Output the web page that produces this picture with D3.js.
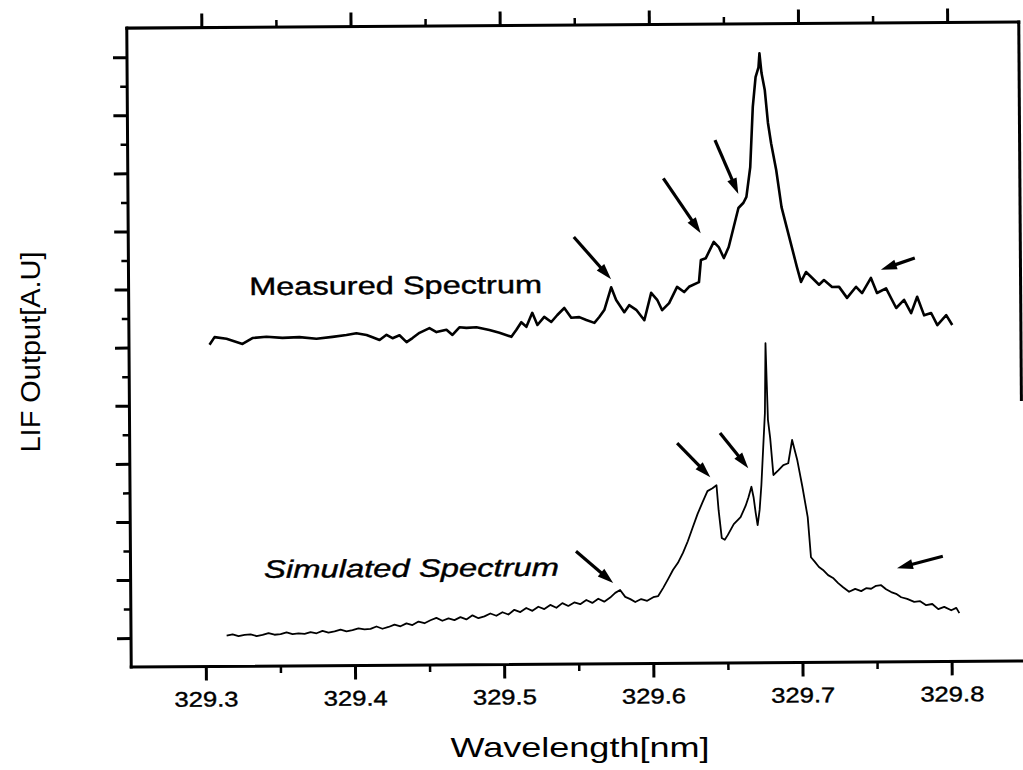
<!DOCTYPE html>
<html>
<head>
<meta charset="utf-8">
<script src="https://cdn.jsdelivr.net/npm/d3@7"></script>
<style>
  html, body { margin: 0; padding: 0; background: #fff; }
  svg { display: block; }
  text { font-family: "Liberation Sans", Arial, sans-serif; fill: #000; }
</style>
</head>
<body>
<svg id="chart" width="1023" height="770"></svg>
<script>
// wavelength ticks (nm)
var xMajor = [329.3, 329.4, 329.5, 329.6, 329.7, 329.8];
var xMinor = [329.35, 329.45, 329.55, 329.65, 329.75];
// intensity ticks (arbitrary units, no labels)
var yMajor = [0, 1, 2, 3, 4, 5, 6, 7, 8, 9, 10];
var yMinor = [0.5, 1.5, 2.5, 3.5, 4.5, 5.5, 6.5, 7.5, 8.5, 9.5];

// measured spectrum
var measuredX = [329.3040, 329.3074, 329.3154, 329.3261, 329.3328, 329.3422, 329.3529, 329.3643, 329.3757, 329.3865,
  329.3958, 329.4025, 329.4093, 329.4133, 329.4180, 329.4227, 329.4267, 329.4314, 329.4361, 329.4401,
  329.4448, 329.4515, 329.4562, 329.4629, 329.4669, 329.4716, 329.4763, 329.4830, 329.4917, 329.4984,
  329.5064, 329.5098, 329.5131, 329.5165, 329.5205, 329.5239, 329.5285, 329.5332, 329.5373, 329.5420,
  329.5466, 329.5520, 329.5567, 329.5621, 329.5654, 329.5688, 329.5735, 329.5768, 329.5822, 329.5855,
  329.5902, 329.5956, 329.6003, 329.6043, 329.6076, 329.6123, 329.6177, 329.6224, 329.6257, 329.6324,
  329.6338, 329.6371, 329.6425, 329.6458, 329.6492, 329.6525, 329.6559, 329.6592, 329.6626, 329.6646,
  329.6673, 329.6693, 329.6713, 329.6733, 329.6740, 329.6753, 329.6774, 329.6794, 329.6814, 329.6847,
  329.6881, 329.6914, 329.6948, 329.6981, 329.7008, 329.7042, 329.7082, 329.7129, 329.7162, 329.7216,
  329.7263, 329.7316, 329.7377, 329.7417, 329.7477, 329.7517, 329.7578, 329.7645, 329.7698, 329.7745,
  329.7786, 329.7832, 329.7879, 329.7920, 329.7980, 329.8020];
var measuredY = [5.04, 5.17, 5.14, 5.05, 5.15, 5.17, 5.15, 5.16, 5.13, 5.16,
  5.19, 5.22, 5.19, 5.15, 5.10, 5.19, 5.13, 5.18, 5.06, 5.13,
  5.22, 5.30, 5.23, 5.27, 5.18, 5.31, 5.30, 5.31, 5.26, 5.21,
  5.14, 5.26, 5.39, 5.31, 5.55, 5.34, 5.48, 5.39, 5.51, 5.63,
  5.46, 5.47, 5.42, 5.37, 5.47, 5.59, 5.98, 5.76, 5.55, 5.67,
  5.59, 5.41, 5.88, 5.76, 5.58, 5.70, 5.98, 5.89, 5.98, 6.06,
  6.44, 6.47, 6.75, 6.66, 6.47, 6.66, 7.00, 7.33, 7.42, 7.52,
  8.03, 9.07, 9.58, 9.75, 9.99, 9.65, 9.36, 8.79, 8.44, 7.98,
  7.34, 7.00, 6.65, 6.31, 6.05, 6.22, 6.12, 6.00, 6.08, 5.96,
  5.96, 5.77, 5.96, 5.85, 6.11, 5.85, 5.93, 5.59, 5.73, 5.50,
  5.78, 5.46, 5.50, 5.29, 5.46, 5.29];

// simulated spectrum
var simulatedX = [329.3141, 329.3181, 329.3221, 329.3261, 329.3302, 329.3342, 329.3382, 329.3422, 329.3462, 329.3503,
  329.3543, 329.3583, 329.3623, 329.3664, 329.3704, 329.3744, 329.3784, 329.3824, 329.3865, 329.3905,
  329.3945, 329.3985, 329.4025, 329.4066, 329.4106, 329.4146, 329.4186, 329.4227, 329.4267, 329.4307,
  329.4347, 329.4387, 329.4428, 329.4468, 329.4508, 329.4548, 329.4588, 329.4629, 329.4669, 329.4709,
  329.4749, 329.4790, 329.4830, 329.4870, 329.4910, 329.4950, 329.4991, 329.5031, 329.5071, 329.5111,
  329.5151, 329.5192, 329.5232, 329.5272, 329.5312, 329.5353, 329.5393, 329.5433, 329.5473, 329.5513,
  329.5554, 329.5594, 329.5634, 329.5674, 329.5714, 329.5748, 329.5781, 329.5815, 329.5849, 329.5882,
  329.5922, 329.5962, 329.6003, 329.6036, 329.6070, 329.6103, 329.6137, 329.6170, 329.6204, 329.6237,
  329.6271, 329.6304, 329.6338, 329.6371, 329.6405, 329.6432, 329.6445, 329.6465, 329.6485, 329.6505,
  329.6546, 329.6592, 329.6626, 329.6646, 329.6666, 329.6680, 329.6693, 329.6706, 329.6720, 329.6733,
  329.6747, 329.6760, 329.6767, 329.6773, 329.6780, 329.6794, 329.6814, 329.6847, 329.6881, 329.6914,
  329.6941, 329.6975, 329.7008, 329.7042, 329.7062, 329.7088, 329.7115, 329.7142, 329.7176, 329.7209,
  329.7243, 329.7276, 329.7316, 329.7357, 329.7397, 329.7430, 329.7464, 329.7497, 329.7531, 329.7564,
  329.7598, 329.7631, 329.7665, 329.7705, 329.7752, 329.7792, 329.7832, 329.7873, 329.7913, 329.7953,
  329.8000, 329.8034, 329.8054];
var simulatedY = [0.03, 0.05, 0.02, 0.04, 0.05, 0.02, 0.04, 0.07, 0.04, 0.05,
  0.08, 0.05, 0.06, 0.05, 0.08, 0.06, 0.10, 0.07, 0.09, 0.12,
  0.09, 0.11, 0.14, 0.12, 0.13, 0.17, 0.13, 0.16, 0.20, 0.17,
  0.22, 0.19, 0.25, 0.22, 0.27, 0.31, 0.26, 0.30, 0.27, 0.32,
  0.28, 0.35, 0.30, 0.33, 0.38, 0.34, 0.40, 0.36, 0.44, 0.40,
  0.47, 0.42, 0.49, 0.45, 0.52, 0.47, 0.55, 0.50, 0.56, 0.53,
  0.60, 0.55, 0.62, 0.57, 0.64, 0.72, 0.77, 0.65, 0.61, 0.56,
  0.61, 0.58, 0.64, 0.66, 0.80, 0.95, 1.11, 1.23, 1.40, 1.60,
  1.84, 2.07, 2.27, 2.46, 2.51, 2.56, 2.13, 1.65, 1.62, 1.70,
  1.89, 2.01, 2.20, 2.35, 2.53, 2.35, 2.09, 1.87, 2.13, 2.56,
  3.21, 3.80, 5.00, 4.37, 3.68, 3.37, 2.73, 2.81, 2.90, 2.93,
  3.33, 2.98, 2.52, 2.00, 1.31, 1.23, 1.14, 1.09, 1.00, 0.95,
  0.86, 0.79, 0.71, 0.76, 0.72, 0.77, 0.76, 0.81, 0.82, 0.75,
  0.70, 0.67, 0.61, 0.58, 0.53, 0.54, 0.47, 0.49, 0.40, 0.44,
  0.38, 0.42, 0.33];

// arrows: [tail wavelength, tail value, tip wavelength, tip value]
var measuredArrows = [
  [329.5487, 6.85, 329.5735, 6.12],
  [329.6090, 7.85, 329.6338, 6.90],
  [329.6438, 8.50, 329.6592, 7.57],
  [329.7772, 6.45, 329.7544, 6.25]
];
var simulatedArrows = [
  [329.5487, 1.44, 329.5735, 0.89],
  [329.6170, 3.29, 329.6391, 2.70],
  [329.6458, 3.46, 329.6646, 2.85],
  [329.7946, 1.31, 329.7638, 1.11]
];

var svg = d3.select('#chart');
svg.append('rect').attr('width', 1023).attr('height', 770).attr('fill', '#fff');

var plotLeft = 129, plotRight = 1021, plotTop = 25, plotBottom = 664;

var x = d3.scaleLinear().domain([329.25, 329.848]).range([plotLeft, plotRight]);
var y = d3.scaleLinear().domain([-0.5, 10.5]).range([plotBottom, plotTop]);

// the scan is slightly tilted
var plot = svg.append('g').attr('transform', 'rotate(-0.4, 575, 345)');

var styleTicks = function(g, w){
  g.select('.domain').remove();
  g.selectAll('.tick line').attr('stroke', '#000').attr('stroke-width', w);
};

plot.append('g')
  .attr('transform', 'translate(0,' + plotBottom + ')')
  .call(d3.axisBottom(x).tickValues(xMinor).tickSize(7).tickSizeOuter(0).tickFormat(''))
  .call(styleTicks, 2.5);

var xAxis = plot.append('g')
  .attr('transform', 'translate(0,' + plotBottom + ')')
  .call(d3.axisBottom(x).tickValues(xMajor).tickSize(14).tickSizeOuter(0).tickFormat(d3.format('.1f')))
  .call(styleTicks, 3);

xAxis.selectAll('.tick text')
  .attr('y', 40).attr('dy', 0)
  .attr('textLength', 64)
  .attr('lengthAdjust', 'spacingAndGlyphs')
  .style('font-family', '"Liberation Sans", Arial, sans-serif')
  .style('font-size', '21px')
  .attr('fill', '#000')
  .attr('stroke', '#000').attr('stroke-width', 0.4);

plot.append('g')
  .attr('transform', 'translate(0,' + plotTop + ')')
  .call(d3.axisTop(x).tickValues(xMinor).tickSize(7).tickSizeOuter(0).tickFormat(''))
  .call(styleTicks, 2.5);
plot.append('g')
  .attr('transform', 'translate(0,' + plotTop + ')')
  .call(d3.axisTop(x).tickValues(xMajor).tickSize(14).tickSizeOuter(0).tickFormat(''))
  .call(styleTicks, 3);

plot.append('g')
  .attr('transform', 'translate(' + plotLeft + ',0)')
  .call(d3.axisLeft(y).tickValues(yMinor).tickSize(7).tickSizeOuter(0).tickFormat(''))
  .call(styleTicks, 2.5);
plot.append('g')
  .attr('transform', 'translate(' + plotLeft + ',0)')
  .call(d3.axisLeft(y).tickValues(yMajor).tickSize(14).tickSizeOuter(0).tickFormat(''))
  .call(styleTicks, 3);

// frame (right side of the scan is cut off part way down)
var frame = [
  [plotLeft, plotTop, plotRight, plotTop],
  [plotLeft, plotBottom, plotRight, plotBottom],
  [plotLeft, plotTop, plotLeft, plotBottom],
  [plotRight, plotTop, plotRight, y(4.0)]
];
plot.selectAll('line.frame')
  .data(frame)
  .enter().append('line')
  .attr('class', 'frame')
  .attr('x1', function(d){ return d[0]; })
  .attr('y1', function(d){ return d[1]; })
  .attr('x2', function(d){ return d[2]; })
  .attr('y2', function(d){ return d[3]; })
  .attr('stroke', '#000')
  .attr('stroke-width', 3)
  .attr('stroke-linecap', 'square');

var line = d3.line()
  .x(function(d){ return x(d[0]); })
  .y(function(d){ return y(d[1]); });

plot.append('path')
  .datum(d3.zip(measuredX, measuredY))
  .attr('d', line)
  .attr('fill', 'none')
  .attr('stroke', '#000')
  .attr('stroke-width', 2.6)
  .attr('stroke-linejoin', 'round');

plot.append('path')
  .datum(d3.zip(simulatedX, simulatedY))
  .attr('d', line)
  .attr('fill', 'none')
  .attr('stroke', '#000')
  .attr('stroke-width', 1.8)
  .attr('stroke-linejoin', 'round');

var drawArrow = function(d){
  var x0 = x(d[0]), y0 = y(d[1]), x1 = x(d[2]), y1 = y(d[3]);
  var dx = x1 - x0, dy = y1 - y0, len = Math.sqrt(dx * dx + dy * dy);
  var ux = dx / len, uy = dy / len;
  var headLen = 16, headW = 5;
  var bx = x1 - ux * headLen, by = y1 - uy * headLen;
  var g = d3.select(this);
  g.append('line')
    .attr('x1', x0).attr('y1', y0).attr('x2', bx + ux * 2).attr('y2', by + uy * 2)
    .attr('stroke', '#000').attr('stroke-width', 3.2);
  g.append('path')
    .attr('d', 'M' + x1 + ',' + y1 +
      'L' + (bx - uy * headW) + ',' + (by + ux * headW) +
      'L' + (bx + uy * headW) + ',' + (by - ux * headW) + 'Z')
    .attr('fill', '#000');
};

plot.selectAll('g.arrow')
  .data(measuredArrows.concat(simulatedArrows))
  .enter().append('g')
  .attr('class', 'arrow')
  .each(drawArrow);

plot.append('text')
  .attr('x', x(329.3308)).attr('y', y(5.89))
  .attr('font-size', 25)
  .attr('textLength', 293)
  .attr('lengthAdjust', 'spacingAndGlyphs')
  .attr('stroke', '#000').attr('stroke-width', 0.4)
  .text('Measured Spectrum');

plot.append('text')
  .attr('x', x(329.3395)).attr('y', y(1.02))
  .attr('font-size', 25)
  .attr('font-style', 'italic')
  .attr('textLength', 295)
  .attr('lengthAdjust', 'spacingAndGlyphs')
  .attr('stroke', '#000').attr('stroke-width', 0.4)
  .text('Simulated Spectrum');

// axis titles
svg.append('text')
  .attr('x', 580).attr('y', 757)
  .attr('text-anchor', 'middle')
  .attr('font-size', 28)
  .attr('textLength', 259)
  .attr('lengthAdjust', 'spacingAndGlyphs')
  .text('Wavelength[nm]');

svg.append('text')
  .attr('transform', 'translate(40,352) rotate(-90)')
  .attr('text-anchor', 'middle')
  .attr('font-size', 27)
  .attr('textLength', 201)
  .attr('lengthAdjust', 'spacingAndGlyphs')
  .text('LIF Output[A.U]');
</script>
</body>
</html>
